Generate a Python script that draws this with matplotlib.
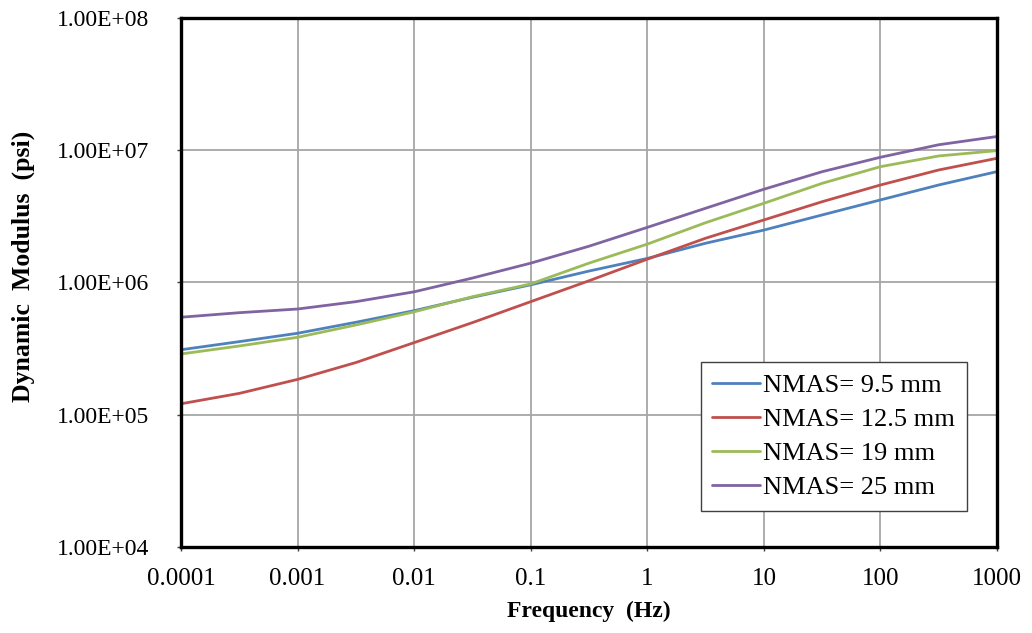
import numpy as np
import matplotlib
matplotlib.use("Agg")
import matplotlib.pyplot as plt
from matplotlib.ticker import FixedLocator, FuncFormatter, NullLocator

###########################################################
### master curves : dynamic modulus vs reduced frequency ###
###########################################################

freq = [0.0001, 0.000316, 0.001, 0.00316, 0.01, 0.0316, 0.1, 0.316,
        1, 3.16, 10, 31.6, 100, 316, 1000]

nmas_95 = [3.1e5, 3.57e5, 4.13e5, 5.0e5, 6.12e5, 7.73e5, 9.6e5, 1.22e6,
           1.52e6, 1.98e6, 2.49e6, 3.24e6, 4.21e6, 5.46e6, 6.89e6]
nmas_125 = [1.21e5, 1.45e5, 1.85e5, 2.48e5, 3.51e5, 4.97e5, 7.16e5, 1.03e6,
            1.50e6, 2.16e6, 2.97e6, 4.08e6, 5.46e6, 7.09e6, 8.69e6]
nmas_19 = [2.88e5, 3.31e5, 3.85e5, 4.77e5, 6.0e5, 7.8e5, 9.75e5, 1.40e6,
           1.95e6, 2.83e6, 3.97e6, 5.62e6, 7.51e6, 9.05e6, 9.93e6]
nmas_25 = [5.46e5, 5.91e5, 6.3e5, 7.16e5, 8.5e5, 1.08e6, 1.40e6, 1.88e6,
           2.61e6, 3.64e6, 5.07e6, 6.88e6, 8.85e6, 1.10e7, 1.27e7]

series = [
    ("NMAS= 9.5 mm", nmas_95, "#4F81BD"),
    ("NMAS= 12.5 mm", nmas_125, "#C0504D"),
    ("NMAS= 19 mm", nmas_19, "#9BBB59"),
    ("NMAS= 25 mm", nmas_25, "#8064A2"),
]

x_ticks = [0.0001, 0.001, 0.01, 0.1, 1, 10, 100, 1000]
x_labels = ["0.0001", "0.001", "0.01", "0.1", "1", "10", "100", "1000"]
y_ticks = [1e4, 1e5, 1e6, 1e7, 1e8]

plt.rcParams["font.family"] = ["Liberation Serif", "DejaVu Serif"]

fig = plt.figure(figsize=(10.32, 6.33), dpi=100)
ax = fig.add_axes([0.1754, 0.1359, 0.7907, 0.8357])

for nom, valeurs, couleur in series:
    ax.plot(freq, valeurs, color=couleur, lw=2.0, label=nom, solid_capstyle="round")

ax.set_xscale("log")
ax.set_yscale("log")
ax.set_xlim(1e-4, 1e3)
ax.set_ylim(1e4, 1e8)

# ticks / grid
ax.xaxis.set_major_locator(FixedLocator(x_ticks))
ax.xaxis.set_minor_locator(NullLocator())
ax.set_xticklabels(x_labels)
ax.yaxis.set_major_locator(FixedLocator(y_ticks))
ax.yaxis.set_minor_locator(NullLocator())
ax.yaxis.set_major_formatter(FuncFormatter(lambda v, p: "%.2E" % v))
ax.tick_params(axis="both", colors="#404040", length=3, width=1)
ax.tick_params(axis="y", labelsize=17, pad=20)
ax.tick_params(axis="x", labelsize=18, pad=12)
for lab in ax.get_xticklabels() + ax.get_yticklabels():
    lab.set_color("black")

ax.grid(True, color="#A6A6A6", lw=1.3)
ax.set_axisbelow(True)
for s in ax.spines.values():
    s.set_color("black")
    s.set_linewidth(2.4)

ax.set_xlabel("Frequency  (Hz)", fontsize=17, fontweight="bold", labelpad=8)
# titre de l'axe y place a la main (un peu au dessus du centre)
fig.text(23 / 1032, 1 - 266 / 633, "Dynamic  Modulus  (psi)", rotation=90,
         fontsize=18.5, fontweight="bold", ha="center", va="center")

leg = ax.legend(loc="lower right", bbox_to_anchor=(0.963, 0.068), borderaxespad=0,
                fontsize=19, handlelength=1.8, handletextpad=0.12,
                labelspacing=0.4, borderpad=0.45, fancybox=False,
                framealpha=1, edgecolor="#404040")
leg.get_frame().set_linewidth(1.0)

fig.savefig("out.png", dpi=100)
